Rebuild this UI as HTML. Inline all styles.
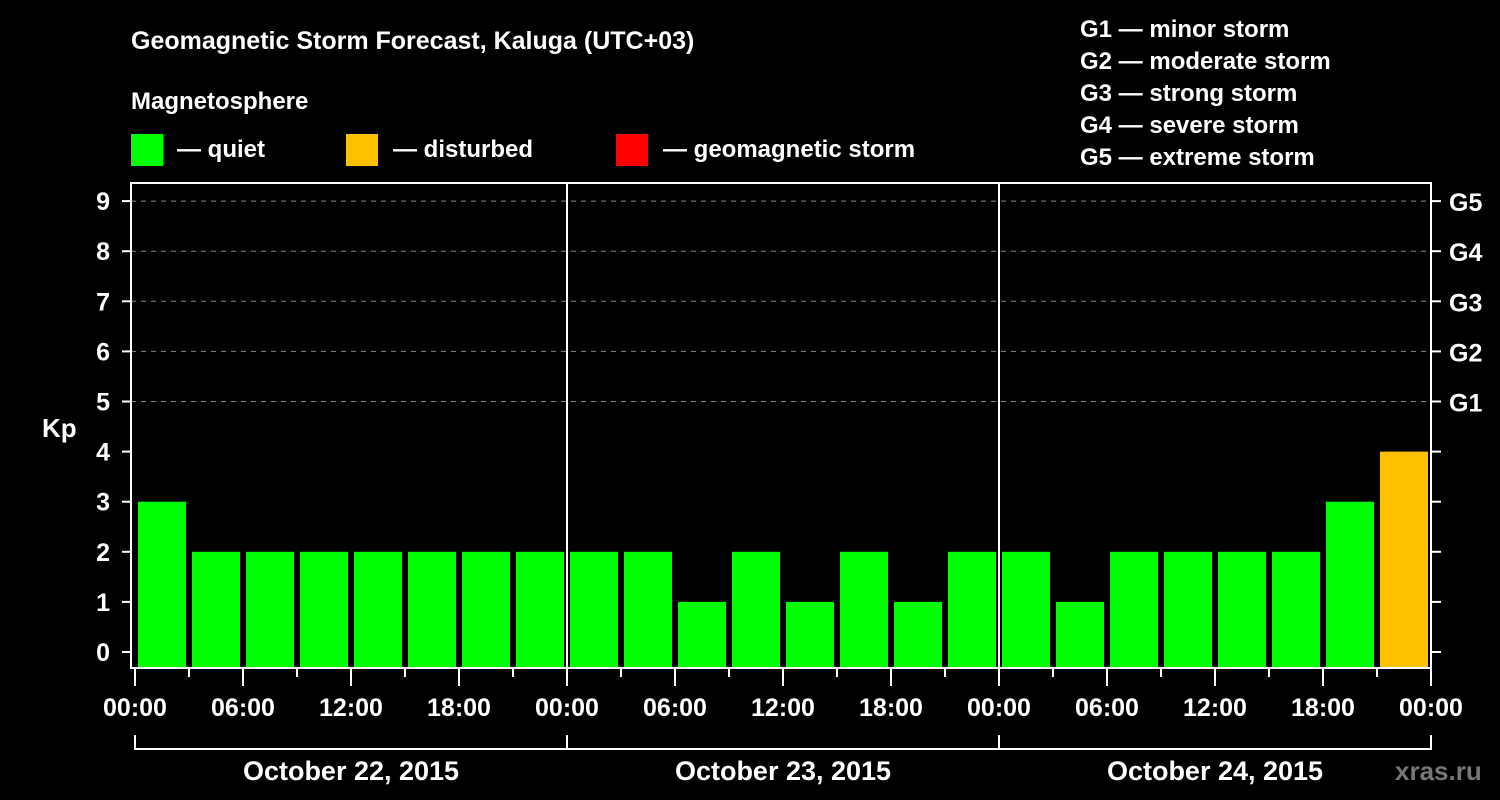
<!DOCTYPE html>
<html><head><meta charset="utf-8"><style>
html,body{margin:0;padding:0;background:#000;width:1500px;height:800px;overflow:hidden}
svg text{font-family:"Liberation Sans",sans-serif;font-weight:bold;fill:#fff}
</style></head><body>
<svg id="chart" width="1500" height="800" xmlns="http://www.w3.org/2000/svg">
<rect width="1500" height="800" fill="#000"/>
<text x="131" y="49" font-size="25">Geomagnetic Storm Forecast, Kaluga (UTC+03)</text>
<text x="131" y="109" font-size="24">Magnetosphere</text>
<g><rect x="131" y="134" width="32" height="32" fill="#00ff00"/><text x="177" y="157" font-size="24">— quiet</text></g>
<g><rect x="346" y="134" width="32" height="32" fill="#ffc000"/><text x="393" y="157" font-size="24">— disturbed</text></g>
<g><rect x="616" y="134" width="32" height="32" fill="#ff0000"/><text x="663" y="157" font-size="24">— geomagnetic storm</text></g>
<g font-size="24">
<text x="1080" y="37">G1 — minor storm</text>
<text x="1080" y="69">G2 — moderate storm</text>
<text x="1080" y="101">G3 — strong storm</text>
<text x="1080" y="133">G4 — severe storm</text>
<text x="1080" y="165">G5 — extreme storm</text>
</g>
<text x="42" y="437" font-size="26">Kp</text>
<g id="grid"></g><g id="bars"></g><g id="axes"></g>
<text x="1395" y="780" font-size="26" style="fill:#777">xras.ru</text>
</svg>
<script>
const categories=["00:00","03:00","06:00","09:00","12:00","15:00","18:00","21:00","00:00","03:00","06:00","09:00","12:00","15:00","18:00","21:00","00:00","03:00","06:00","09:00","12:00","15:00","18:00","21:00"];
const kpValues=[3,2,2,2,2,2,2,2,2,2,1,2,1,2,1,2,2,1,2,2,2,2,3,4];
const yTicks=[0,1,2,3,4,5,6,7,8,9];
const gLabels=["G1","G2","G3","G4","G5"];
const xTickLabels=["00:00","06:00","12:00","18:00","00:00","06:00","12:00","18:00","00:00","06:00","12:00","18:00","00:00"];
const dayLabels=["October 22, 2015","October 23, 2015","October 24, 2015"];
const NS="http://www.w3.org/2000/svg";
const L=131,R=1431,T=183,B=668,X0=135,HOUR=18;
const y=v=>652-v*50.1;
const xh=h=>X0+h*HOUR;
function mk(tag,attrs,parent){const e=document.createElementNS(NS,tag);for(const k in attrs)e.setAttribute(k,attrs[k]);parent.appendChild(e);return e;}
const grid=document.getElementById('grid'),bars=document.getElementById('bars'),axes=document.getElementById('axes');
yTicks.forEach(v=>{
 if(v>=5){const g=mk('line',{x1:L,x2:R,y1:y(v),y2:y(v),stroke:'#888','stroke-dasharray':'5,5','stroke-width':1},grid);
 
 }
 const t=mk('text',{x:110,y:y(v)+9,'font-size':25,'text-anchor':'end'},axes);t.textContent=v;
 
 
 mk('line',{x1:122,x2:L,y1:y(v),y2:y(v),stroke:'#fff','stroke-width':2},axes);
 mk('line',{x1:R,x2:1441,y1:y(v),y2:y(v),stroke:'#fff','stroke-width':2},axes);
 if(v>=5){const g=mk('text',{x:1449,y:y(v)+10,'font-size':25},axes);g.textContent=gLabels[v-5];
 
 }
});
kpValues.forEach((v,i)=>{
 const col=v>=5?'#ff0000':(v>=4?'#ffc000':'#00ff00');
 const r=mk('rect',{x:xh(i*3)+3,y:y(v),width:48,height:B-y(v),fill:col},bars);
 
 
});
const f=mk('rect',{x:L,y:T,width:R-L,height:B-T,fill:'none',stroke:'#fff','stroke-width':2},axes);


[1,2].forEach(d=>mk('line',{x1:xh(d*24),x2:xh(d*24),y1:T,y2:B,stroke:'#fff','stroke-width':2},axes));
for(let h=0;h<=72;h+=3){mk('line',{x1:xh(h),x2:xh(h),y1:B,y2:h%6==0?686:677,stroke:'#fff','stroke-width':2},axes);}
xTickLabels.forEach((s,i)=>{const t=mk('text',{x:xh(i*6),y:716,'font-size':25,'text-anchor':'middle'},axes);t.textContent=s;
 
 });
mk('path',{d:`M${xh(0)},735V749H${xh(72)}V735`,fill:'none',stroke:'#fff','stroke-width':2},axes);
[1,2].forEach(d=>mk('line',{x1:xh(d*24),x2:xh(d*24),y1:735,y2:749,stroke:'#fff','stroke-width':2},axes));
dayLabels.forEach((s,i)=>{const t=mk('text',{x:xh(i*24+12),y:780,'font-size':27,'text-anchor':'middle'},axes);t.textContent=s;
 
 });
</script>
</body></html>
